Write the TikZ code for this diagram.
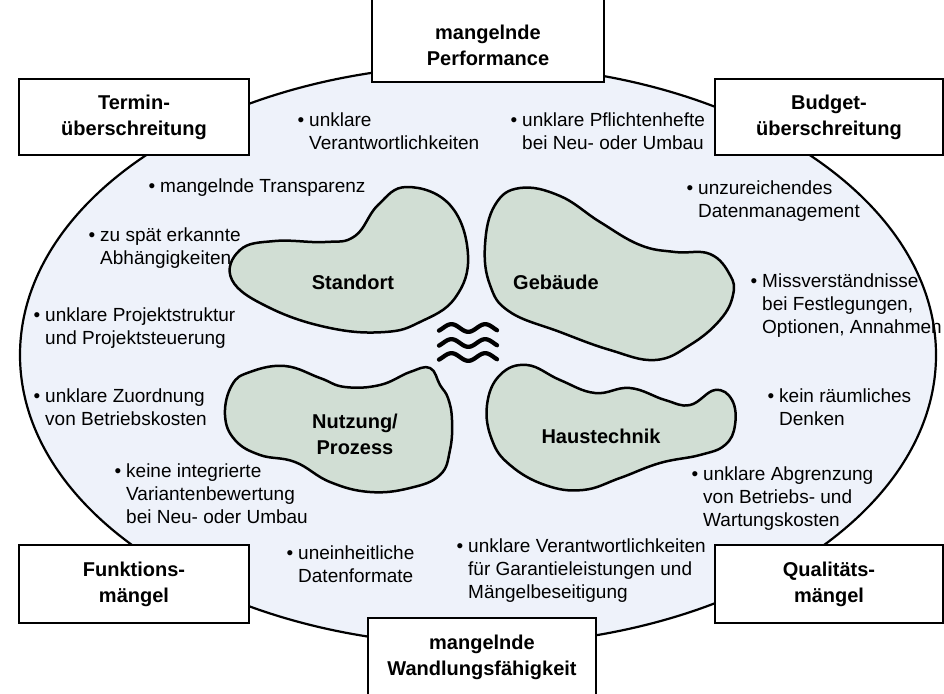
\documentclass[tikz,border=0pt]{standalone}
\usepackage{fontspec}
\setmainfont{Liberation Sans}
\definecolor{ellfill}{HTML}{EEF2FA}
\definecolor{blobfill}{HTML}{D1DED4}
\newcommand{\bul}{\llap{\textbullet\hspace{5pt}}}
\begin{document}
\begin{tikzpicture}[x=1pt,y=-1pt,
  region/.style={draw=black, line width=2.2pt, fill=ellfill},
  blob/.style={draw=black, line width=2.5pt, fill=blobfill, line join=round},
  frame/.style={draw=black, line width=1.8pt, fill=white, inner sep=0, rectangle},
  head/.style={font=\bfseries\fontsize{20}{26}\selectfont, align=center, inner sep=0},
  % multi-line items are placed by the baseline of their last line
  item/.style={font=\fontsize{19}{23}\selectfont, align=left, anchor=base west, inner sep=0},
  wave/.style={line width=4.3pt, line cap=round}
]
\useasboundingbox (0,0) rectangle (944,693);

% outer field
\draw[region] (478,355) ellipse [x radius=458, y radius=290];

% corner and edge boxes
\node[frame, minimum width=230, minimum height=76] (termB) at (134,117) {};
\node[frame, minimum width=228, minimum height=76] (budgB) at (829,117) {};
\node[frame, minimum width=230, minimum height=78] (funkB) at (134,584) {};
\node[frame, minimum width=228, minimum height=78] (qualB) at (829,584) {};
\node[frame, minimum width=232, minimum height=88] (perfB) at (488,38) {};
\node[frame, minimum width=228, minimum height=80] (wandB) at (482,658) {};

\node[head] (termT) at (termB.center) {Termin-\\überschreitung};
\node[head] (budgT) at (budgB.center) {Budget-\\überschreitung};
\node[head] (funkT) at (funkB.center) {Funktions-\\mängel};
\node[head] (qualT) at (qualB.center) {Qualitäts-\\mängel};
\node[head] (perfT) at (488,45) {mangelnde\\Performance};
\node[head] (wandT) at (482,657) {mangelnde\\Wandlungsfähigkeit};

% the four areas
\draw[blob] plot[smooth cycle, tension=0.7] coordinates {
  (407,187) (450,205) (468,255) (455,298) (420,322) (385,332) (330,328)
  (270,308) (232,280) (240,250) (275,241) (325,242) (355,236) (378,205)};
\draw[blob] plot[smooth cycle, tension=0.7] coordinates {
  (520,188) (560,196) (600,222) (640,245) (675,252) (710,254) (730,275)
  (733,295) (720,320) (690,345) (655,360) (610,350) (560,332) (510,312)
  (490,285) (485,245) (495,205)};
\draw[blob] plot[smooth cycle, tension=0.7] coordinates {
  (250,372) (285,366) (320,378) (345,387) (380,385) (410,372) (430,368)
  (440,385) (448,398) (452,420) (450,450) (440,475) (410,488) (370,492)
  (330,482) (295,462) (260,455) (235,440) (225,415) (232,385)};
\draw[blob] plot[smooth cycle, tension=0.7] coordinates {
  (527,365) (560,380) (595,393) (630,388) (665,400) (690,405) (715,390)
  (732,400) (735,425) (725,445) (700,455) (660,463) (620,478) (583,490)
  (545,485) (510,465) (492,440) (487,405) (500,375)};

\node[head] (stand) at (353,282) {Standort};
\node[head] (gebau) at (556,282) {Gebäude};
\node[head] (nutz) at (355,434) {Nutzung/\\Prozess};
\node[head] (haus) at (601,436) {Haustechnik};

% interaction sign
\foreach \yy in {328,343,357}
  \draw[wave] plot[domain=-43:576, samples=60]
    ({439 + (\x+43)/619*58}, {\yy - 3.8*sin(\x)});

% listed causes
\node[item] (i1) at (309,149) {\bul unklare\\Verantwortlichkeiten};
\node[item] (i2) at (522,149) {\bul unklare Pflichtenhefte\\bei Neu- oder Umbau};
\node[item] (i3) at (160,192) {\bul mangelnde Transparenz};
\node[item] (i4) at (698,217) {\bul unzureichendes\\Datenmanagement};
\node[item] (i5) at (100,264) {\bul zu spät erkannte\\Abhängigkeiten};
\node[item] (i6) at (762,333) {\bul Missverständnisse\\bei Festlegungen,\\Optionen, Annahmen};
\node[item] (i7) at (45,344) {\bul unklare Projektstruktur\\und Projektsteuerung};
\node[item] (i8) at (45,425) {\bul unklare Zuordnung\\von Betriebskosten};
\node[item] (i9) at (779,425) {\bul kein räumliches\\Denken};
\node[item] (i10) at (126,523) {\bul keine integrierte\\Variantenbewertung\\bei Neu- oder Umbau};
\node[item] (i11) at (703,526) {\bul unklare Abgrenzung\\von Betriebs- und\\Wartungskosten};
\node[item] (i12) at (298,582) {\bul uneinheitliche\\Datenformate};
\node[item] (i13) at (468,598) {\bul unklare Verantwortlichkeiten\\für Garantieleistungen und\\Mängelbeseitigung};
\end{tikzpicture}
\end{document}
